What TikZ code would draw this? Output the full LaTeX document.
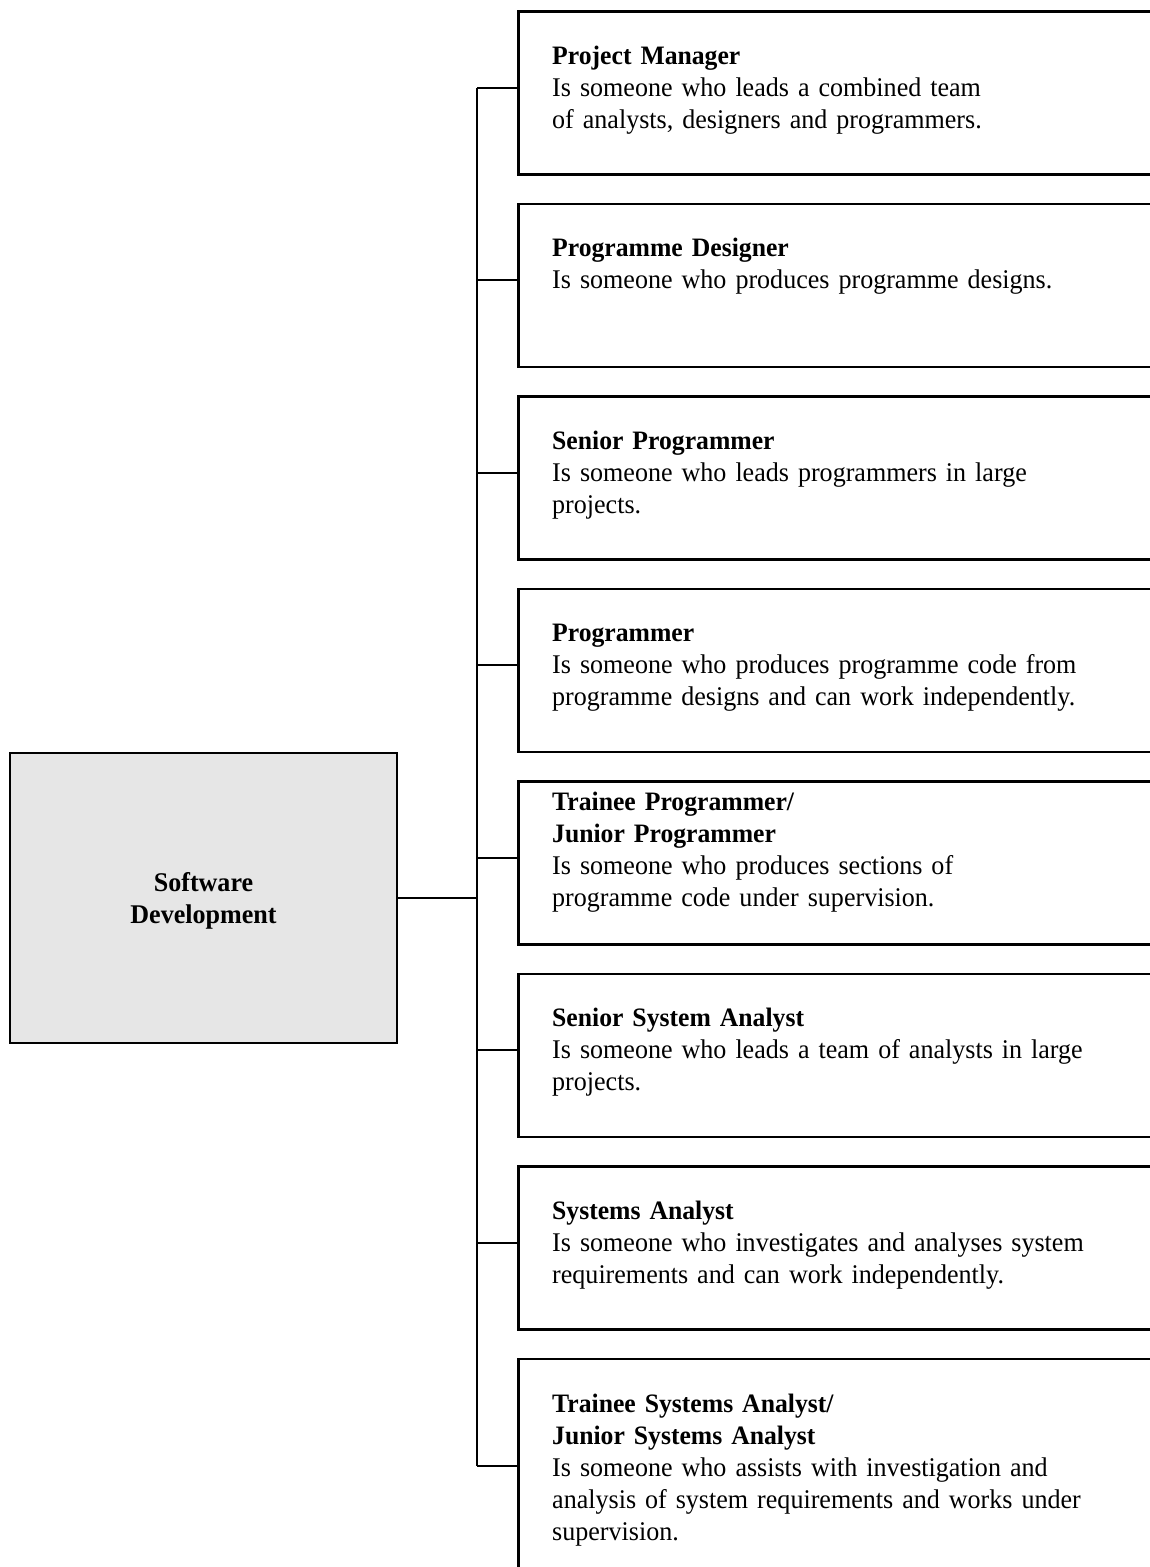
\documentclass[tikz,border=0pt]{standalone}
\usepackage{fontspec}
\setmainfont{Liberation Serif}[FakeStretch=0.965]
\newcommand\roletitle[1]{{\fontsize{26.6}{32.2}\selectfont\bfseries #1}}
\begin{document}
\begin{tikzpicture}[x=1pt,y=-1pt,
  rolebox/.style={draw=black, line width=2.6pt, anchor=north west, minimum width=700pt, minimum height=163pt, inner sep=0pt},
  rootbox/.style={draw=black, fill=rootgray, line width=2.6pt, minimum width=387pt, minimum height=290pt, inner sep=0pt},
  roottext/.style={anchor=base, inner sep=0pt, text width=380pt, align=center, font=\fontsize{27}{31.5}\selectfont\bfseries},
  roletext/.style={anchor=base west, inner sep=0pt, text width=580pt, align=left, font=\fontsize{27}{32.2}\selectfont},
  link/.style={line width=2.4pt, draw=black}]
\definecolor{rootgray}{HTML}{E6E6E6}
\useasboundingbox (0,0) rectangle (1150,1567);
\clip (0,0) rectangle (1150,1567);
\fill[white] (0,0) rectangle (1150,1567);

\node[rootbox] (root) at (203.5,898) {};
\node[roottext] (rootlabel) at (203.5,891.5) {Software\\Development};

\node[rolebox] (b1) at (517,10) {};
\node[rolebox] (b2) at (517,202.5) {};
\node[rolebox] (b3) at (517,395) {};
\node[rolebox] (b4) at (517,587.5) {};
\node[rolebox] (b5) at (517,780) {};
\node[rolebox] (b6) at (517,972.5) {};
\node[rolebox] (b7) at (517,1165) {};
\node[rolebox, minimum height=240pt] (b8) at (517,1357.5) {};

\node[roletext] (t1) at (552,64) {\roletitle{Project Manager}\\Is someone who leads a combined team\\of analysts, designers and programmers.};
\node[roletext] (t2) at (552,256.5) {\roletitle{Programme Designer}\\Is someone who produces programme designs.};
\node[roletext] (t3) at (552,449) {\roletitle{Senior Programmer}\\Is someone who leads programmers in large\\projects.};
\node[roletext] (t4) at (552,641.5) {\roletitle{Programmer}\\Is someone who produces programme code from\\programme designs and can work independently.};
\node[roletext] (t5) at (552,810) {\roletitle{Trainee Programmer/}\\\roletitle{Junior Programmer}\\Is someone who produces sections of\\programme code under supervision.};
\node[roletext] (t6) at (552,1026.5) {\roletitle{Senior System Analyst}\\Is someone who leads a team of analysts in large\\projects.};
\node[roletext] (t7) at (552,1219) {\roletitle{Systems Analyst}\\Is someone who investigates and analyses system\\requirements and can work independently.};
\node[roletext] (t8) at (552,1412) {\roletitle{Trainee Systems Analyst/}\\\roletitle{Junior Systems Analyst}\\Is someone who assists with investigation and\\analysis of system requirements and works under\\supervision.};

\coordinate (j) at (477,898);
\coordinate (k1) at (477,88);
\coordinate (k2) at (477,280);
\coordinate (k3) at (477,473);
\coordinate (k4) at (477,665);
\coordinate (k5) at (477,858);
\coordinate (k6) at (477,1050);
\coordinate (k7) at (477,1243);
\coordinate (k8) at (477,1466);

\draw[link] (root.east) -- (j);
\draw[link] (k1) -- (k8);
\foreach \i in {1,...,8} {
  \draw[link] (k\i) -- (k\i -| b\i.west);
}
\end{tikzpicture}
\end{document}
